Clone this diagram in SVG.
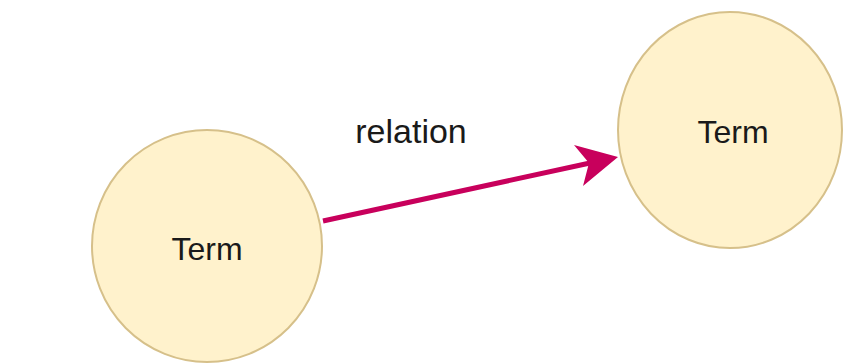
<svg xmlns="http://www.w3.org/2000/svg" width="843" height="363" viewBox="0 0 843 363">
  <style>
    .term { fill: #FFF2CC; stroke: #D6C08A; stroke-width: 2; }
    .label { font-family: "Liberation Sans", Arial, sans-serif; font-size: 32px; fill: #1a1a1a; text-anchor: middle; }
    .edge { stroke: #C8005C; stroke-width: 5; fill: none; }
    .head { fill: #C8005C; }
  </style>
  <rect width="843" height="363" fill="#ffffff"/>
  <g id="connectors">
    <g id="edge-relation">
      <line class="edge" x1="323" y1="221" x2="590" y2="163"/>
      <polygon class="head" points="618,157 574,145 589,163 583,186"/>
      <text class="label" x="411" y="143" style="font-size:34px">relation</text>
    </g>
  </g>
  <g id="node-term-left">
    <ellipse class="term" cx="207" cy="246" rx="115" ry="116"/>
    <text class="label" x="207" y="260">Term</text>
  </g>
  <g id="node-term-right">
    <ellipse class="term" cx="730" cy="130" rx="112" ry="118"/>
    <text class="label" x="733" y="143">Term</text>
  </g>
</svg>
